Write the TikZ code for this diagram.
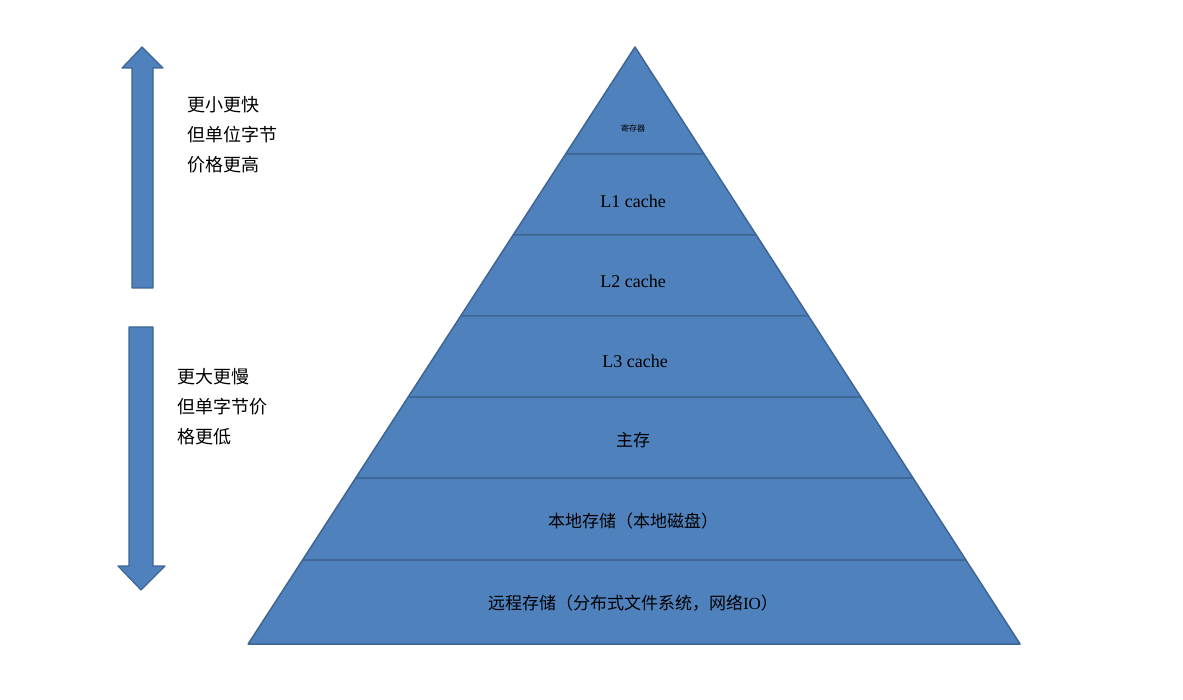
\documentclass[tikz,border=0pt]{standalone}
\usepackage{fontspec}
\setmainfont{Liberation Serif}
\newfontfamily\cjk{Noto Sans CJK SC}
\begin{document}
\begin{tikzpicture}[x=1pt,y=-1pt,
  band/.style={fill=blue4f,draw=edge38,line width=1.5pt,line join=round},
  lab/.style={font=\cjk\fontsize{17}{20}\selectfont,text=black},
  side/.style={font=\cjk\fontsize{18}{30}\selectfont,align=left,anchor=north west,text=black}]
\definecolor{blue4f}{HTML}{4F81BD}
\definecolor{edge38}{HTML}{3F6594}
\useasboundingbox (0,0) rectangle (1183,700);
\def\L#1{(635-0.648*(#1-47))}
\def\R#1{(635+0.645*(#1-47))}
\foreach \a/\b in {154/235,235/316,316/397,397/478,478/560,560/644}{
  \draw[band] ({635-0.648*(\a-47)},\a) -- ({635+0.645*(\a-47)},\a) -- ({635+0.645*(\b-47)},\b) -- ({635-0.648*(\b-47)},\b) -- cycle;}
\draw[band] (635,47) -- ({635+0.645*107},154) -- ({635-0.648*107},154) -- cycle;
\node[lab,font=\cjk\fontsize{8}{9}\selectfont] (r) at (633,128) {寄存器};
\node[lab,font=\fontsize{18}{20}\selectfont] (l1) at (633,201) {L1 cache};
\node[lab,font=\fontsize{18}{20}\selectfont] (l2) at (633,281) {L2 cache};
\node[lab,font=\fontsize{18}{20}\selectfont] (l3) at (635,361) {L3 cache};
\node[lab] (m) at (633,440) {主存};
\node[lab] (d) at (633,521) {本地存储（本地磁盘）};
\node[lab] (n) at (633,603) {远程存储（分布式文件系统，网络{\rmfamily IO}）};
\draw[band,line width=1.2pt] (132,288) -- (132,68) -- (122,68) -- (142,47) -- (163,68) -- (153,68) -- (153,288) -- cycle;
\draw[band,line width=1.2pt] (129,327) -- (129,566) -- (118,566) -- (141,590) -- (165,566) -- (153,566) -- (153,327) -- cycle;
\node[side] (t1) at (184,93) {更小更快\\但单位字节\\价格更高};
\node[side] (t2) at (174,365) {更大更慢\\但单字节价\\格更低};
\end{tikzpicture}
\end{document}
